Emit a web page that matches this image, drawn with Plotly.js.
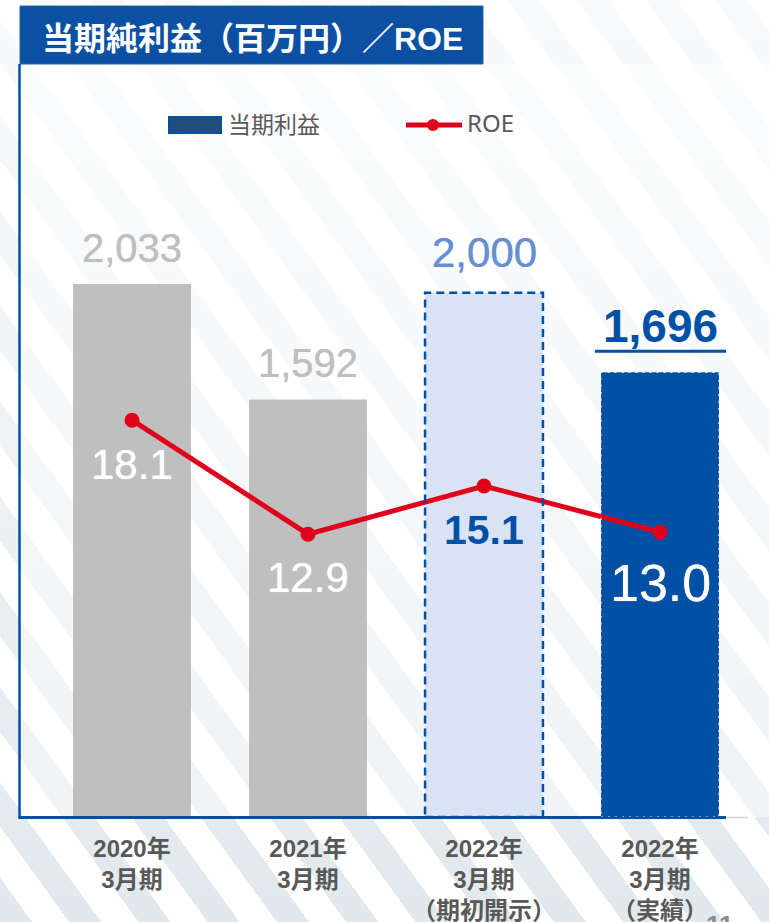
<!DOCTYPE html>
<html>
<head>
<meta charset="utf-8">
<script src="https://cdn.plot.ly/plotly-3.0.1.min.js"></script>
<style>
  html, body { margin:0; padding:0; width:769px; height:922px; overflow:hidden; background:#ffffff; }
  #bg { position:absolute; left:0; top:0; width:769px; height:922px;
        background:
          linear-gradient(to bottom, rgba(255,255,255,0.78) 0%, rgba(255,255,255,0.45) 45%, rgba(255,255,255,0.1) 85%, rgba(255,255,255,0) 100%),
          repeating-linear-gradient(54deg, #e2e9ed 0px, #e2e9ed 26px, #ffffff 26px, #ffffff 56px); }
  #inner { position:absolute; left:21px; top:64px; width:748px; height:753px; background:rgba(255,255,255,0.45); }
  #chart { position:absolute; left:0; top:0; width:769px; height:922px; }
</style>
</head>
<body>
<div id="bg"></div>
<div id="inner"></div>
<div id="chart"></div>
<script>
// ---- data ----
const categories = ['2020年<br>3月期', '2021年<br>3月期', '2022年<br>3月期<br>（期初開示）', '2022年<br>3月期<br>（実績）'];
const netIncome = [2033, 1592, 2000, 1696];
const netIncomeLabels = ['2,033', '1,592', '2,000', '1,696'];
const roe = [18.1, 12.9, 15.1, 13.0];
const roeLabels = ['18.1', '12.9', '15.1', '13.0'];
const legendNames = ['当期利益', 'ROE'];
const titleText = '当期純利益（百万円）／ROE';
const pageNumber = '11';

// ---- styling ----
const barColors = ['#bfbfbf', '#bfbfbf', '#dae3f3', '#0050a5'];
const incomeLabelStyle = [
  {color:'#bfbfbf', size:40, bold:false, shift:36},
  {color:'#bfbfbf', size:40, bold:false, shift:37},
  {color:'#6a8fd0', size:42, bold:false, shift:40},
  {color:'#0050a5', size:46, bold:true,  shift:46}
];
const roeLabelStyle = [
  {color:'#ffffff', size:42, bold:false, shift:-44},
  {color:'#ffffff', size:42, bold:false, shift:-43},
  {color:'#0050a5', size:41, bold:true,  shift:-44},
  {color:'#ffffff', size:52, bold:false, shift:-51}
];
const FONT = 'Liberation Sans, Arial, Noto Sans CJK JP, sans-serif';
const CJK = 'Liberation Sans, Noto Sans CJK JP, sans-serif';
const BLUE = '#0050a5';
const RED = '#e0001b';

const L = 44, R = 748, T = 80, B = 817;
const fx = p => (p - L) / (R - L);
const fy = p => (B - p) / (B - T);
const barW = 0.67;
const idx = categories.map((_, i) => i);

const barTrace = {
  type:'bar', x: idx, y: netIncome, width: barW,
  marker:{color: barColors, line:{width:0}},
  hoverinfo:'skip', showlegend:false, cliponaxis:false
};
const lineTrace = {
  type:'scatter', mode:'lines+markers', x: idx, y: roe, yaxis:'y2',
  line:{color: RED, width:5}, marker:{color: RED, size:15},
  hoverinfo:'skip', showlegend:false, cliponaxis:false
};

const annotations = [];
netIncome.forEach((v, i) => {
  const s = incomeLabelStyle[i];
  annotations.push({x:i, y:v, xref:'x', yref:'y', text: s.bold ? '<b>'+netIncomeLabels[i]+'</b>' : netIncomeLabels[i],
    showarrow:false, xanchor:'center', yanchor:'middle', yshift:s.shift,
    font:{family:FONT, size:s.size, color:s.color, shadow: s.bold ? 'none' : ('0px 0px 0.8px ' + s.color)}});
});
roe.forEach((v, i) => {
  const s = roeLabelStyle[i];
  annotations.push({x:i, y:v, xref:'x', yref:'y2', text: s.bold ? '<b>'+roeLabels[i]+'</b>' : roeLabels[i],
    showarrow:false, xanchor:'center', yanchor:'middle', yshift:s.shift,
    font:{family:FONT, size:s.size, color:s.color, shadow: s.bold ? 'none' : ('0px 0px 0.8px ' + s.color)}});
});
// title
annotations.push({xref:'paper', yref:'paper', x: fx(252), y: fy(39), xanchor:'center', yanchor:'middle',
  text:'<b>'+titleText+'</b>', showarrow:false, font:{family:CJK, size:32, color:'#ffffff'}});
// legend texts
annotations.push({xref:'paper', yref:'paper', x: fx(226), y: fy(123), xanchor:'left', yanchor:'middle',
  text: legendNames[0], showarrow:false, font:{family:'Noto Sans CJK JP, sans-serif', size:23, color:'#595959'}});
annotations.push({xref:'paper', yref:'paper', x: fx(465), y: fy(123), xanchor:'left', yanchor:'middle',
  text: legendNames[1], showarrow:false, font:{family:'Noto Sans, sans-serif', size:24, color:'#595959'}});
// page number
annotations.push({xref:'paper', yref:'paper', x: fx(720), y: fy(908), xanchor:'center', yanchor:'top',
  text:'<b>'+pageNumber+'</b>', showarrow:false, font:{family:FONT, size:26, color:'#8c8c8c'}});

const shapes = [
  // title box
  {type:'rect', xref:'paper', yref:'paper', x0: fx(20), x1: fx(483), y0: fy(64), y1: fy(6),
    fillcolor:'#0b50a3', line:{color:'#2a63ad', width:1}, layer:'above'},
  // frame left
  {type:'line', xref:'paper', yref:'paper', x0: fx(19.5), x1: fx(19.5), y0: fy(64), y1: fy(818.5),
    line:{color:BLUE, width:2.5}, layer:'above'},
  // frame bottom (gray tail first)
  {type:'line', xref:'paper', yref:'paper', x0: fx(726), x1: fx(748), y0: fy(817.5), y1: fy(817.5),
    line:{color:'#d4d4d4', width:1.5}, layer:'above'},
  {type:'line', xref:'paper', yref:'paper', x0: fx(18.5), x1: fx(726), y0: fy(817.5), y1: fy(817.5),
    line:{color:BLUE, width:3}, layer:'above'},
  // legend symbols
  {type:'rect', xref:'paper', yref:'paper', x0: fx(169), x1: fx(221), y0: fy(133), y1: fy(117),
    fillcolor:'#1f4e79', line:{color:BLUE, width:2}, layer:'above'},
  {type:'line', xref:'paper', yref:'paper', x0: fx(406), x1: fx(462), y0: fy(125), y1: fy(125),
    line:{color:RED, width:5}, layer:'above'},
  {type:'circle', xref:'paper', yref:'paper', x0: fx(427), x1: fx(439), y0: fy(131), y1: fy(119),
    fillcolor:RED, line:{color:RED, width:0}, layer:'above'},
  // dashed outline of the forecast bar (index 2)
  {type:'rect', xref:'x', yref:'y', x0: 2 - barW/2, x1: 2 + barW/2, y0: 0, y1: netIncome[2],
    line:{color:BLUE, width:2.5, dash:'8px,5px'}, fillcolor:'rgba(0,0,0,0)', layer:'above'},
  // dotted light edge of actual bar (index 3)
  {type:'rect', xref:'x', yref:'y', x0: 3 - barW/2, x1: 3 + barW/2, y0: 0, y1: netIncome[3],
    line:{color:'rgba(255,255,255,0.85)', width:1.2, dash:'2px,5px'}, fillcolor:'rgba(0,0,0,0)', layer:'above'},
  // underline under 1,696
  {type:'line', xref:'x', yref:'y', ysizemode:'pixel', yanchor: netIncome[3], x0: 3 - 0.37, x1: 3 + 0.375, y0: 21, y1: 21,
    line:{color:BLUE, width:3}, layer:'above'}
];

const layout = {
  width:769, height:922,
  margin:{l:L, r:769-R, t:T, b:922-B, pad:0},
  paper_bgcolor:'rgba(0,0,0,0)', plot_bgcolor:'rgba(0,0,0,0)',
  showlegend:false,
  xaxis:{type:'linear', range:[-0.5, 3.5], tickmode:'array', tickvals: idx, ticktext: categories,
    showgrid:false, zeroline:false, showline:false, ticks:'', ticklabelstandoff:15,
    tickfont:{family:CJK, size:24, color:'#595959', weight:'bold'}, fixedrange:true},
  yaxis:{range:[0, 2811], visible:false, showgrid:false, zeroline:false, fixedrange:true},
  yaxis2:{range:[0, 33.62], overlaying:'y', visible:false, showgrid:false, zeroline:false, fixedrange:true},
  annotations: annotations,
  shapes: shapes
};

Plotly.newPlot('chart', [barTrace, lineTrace], layout, {displayModeBar:false, staticPlot:true});
</script>
</body>
</html>
